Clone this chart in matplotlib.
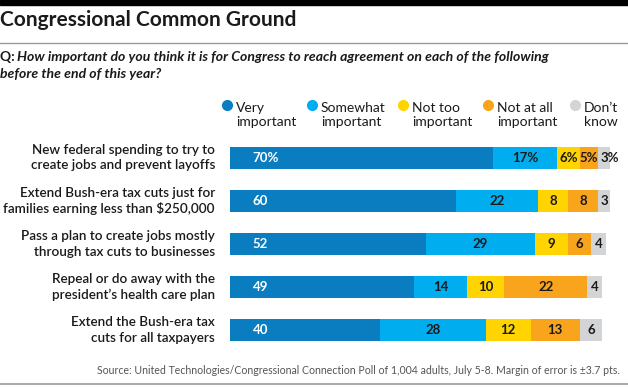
import matplotlib.pyplot as plt
from matplotlib.lines import Line2D
from matplotlib.patches import Rectangle

plt.rcParams['font.family'] = ['Lato', 'DejaVu Sans']

categories = [
    'New federal spending to try to\ncreate jobs and prevent layoffs',
    'Extend Bush-era tax cuts just for\nfamilies earning less than $250,000',
    'Pass a plan to create jobs mostly\nthrough tax cuts to businesses',
    'Repeal or do away with the\npresident\u2019s health care plan',
    'Extend the Bush-era tax\ncuts for all taxpayers',
]
series = ['Very\nimportant', 'Somewhat\nimportant', 'Not too\nimportant',
          'Not at all\nimportant', 'Don\u2019t\nknow']
very = [70, 60, 52, 49, 40]
somewhat = [17, 22, 29, 14, 28]
not_too = [6, 8, 9, 10, 12]
not_at_all = [5, 8, 6, 22, 13]
dont_know = [3, 3, 4, 4, 6]

colors = ['#0a7dc1', '#00aeef', '#ffd400', '#f8a41c', '#d3d4d6']
text_colors = ['white', '#1a1a1a', '#1a1a1a', '#1a1a1a', '#1a1a1a']

W, H = 628, 387
fig = plt.figure(figsize=(W / 100, H / 100), dpi=100)


def fx(px):
    return px / W


def fy(py):
    return 1 - py / H


# top black band and rules
fig.patches.append(Rectangle((0, fy(5)), 1, 5 / H, transform=fig.transFigure,
                             color='black', zorder=0))
fig.lines.append(Line2D([0, 1], [fy(43), fy(43)], transform=fig.transFigure,
                        color='#999999', lw=1))
fig.lines.append(Line2D([0, 1], [fy(384), fy(384)], transform=fig.transFigure,
                        color='#aaaaaa', lw=1.5))

fig.text(fx(0), fy(20), 'Congressional Common Ground', fontsize=15,
         fontweight='bold', color='#1a1a1a', va='center', ha='left')
fig.text(fx(0), fy(57), 'Q: ', fontsize=10, fontweight='bold',
         color='#1a1a1a', va='center', ha='left')
fig.text(fx(17), fy(57), 'How important do you think it is for Congress to reach '
         'agreement on each of the following', fontsize=10.1, fontweight='bold',
         style='italic', color='#1a1a1a', va='center', ha='left')
fig.text(fx(0), fy(74), 'before the end of this year?', fontsize=10.1,
         fontweight='bold', style='italic', color='#1a1a1a', va='center',
         ha='left')

# legend
leg_dot_x = [227, 312, 403, 488, 575]
for i, name in enumerate(series):
    fig.lines.append(Line2D([fx(leg_dot_x[i])], [fy(105)], marker='o',
                            markersize=7, color=colors[i], lw=0,
                            transform=fig.transFigure))
    fig.text(fx(leg_dot_x[i] + 9), fy(115), name, fontsize=10,
             color='#1a1a1a', va='center', ha='left', linespacing=1.25)

# bars
ax = fig.add_axes([fx(230), fy(351.5), 3.76 * 105 / W, 215 / H])
ax.set_xlim(0, 105)
ax.set_ylim(4.5, -0.5)
ax.axis('off')

data = [very, somewhat, not_too, not_at_all, dont_know]
y = list(range(len(categories)))
left = [0] * len(categories)
for s, vals in enumerate(data):
    ax.barh(y, vals, left=left, height=0.5, color=colors[s], edgecolor='none')
    for r, v in enumerate(vals):
        lab = str(v) + ('%' if r == 0 else '')
        if s == 0:
            ax.text(left[r] + 6, r, lab, color='white', fontsize=9.5,
                    fontweight='bold', va='center', ha='left')
        else:
            xc = left[r] + v / 2
            if s == 4 and r == 0:
                xc = left[r] + v / 2 + 1.5
            ax.text(xc, r, lab, color=text_colors[s], fontsize=9.5,
                    fontweight='bold', va='center', ha='center')
    left = [l + v for l, v in zip(left, vals)]

for r, cat in enumerate(categories):
    ax.text(-4, r, cat, fontsize=9.7, color='#1a1a1a', va='center', ha='right',
            fontweight='semibold', linespacing=1.3)

fig.text(fx(620), fy(371), 'Source: United Technologies/Congressional Connection '
         'Poll of 1,004 adults, July 5-8. Margin of error is \u00b13.7 pts.',
         fontsize=7.6, color='#555555', va='center', ha='right')

fig.savefig('out.png', dpi=100)
